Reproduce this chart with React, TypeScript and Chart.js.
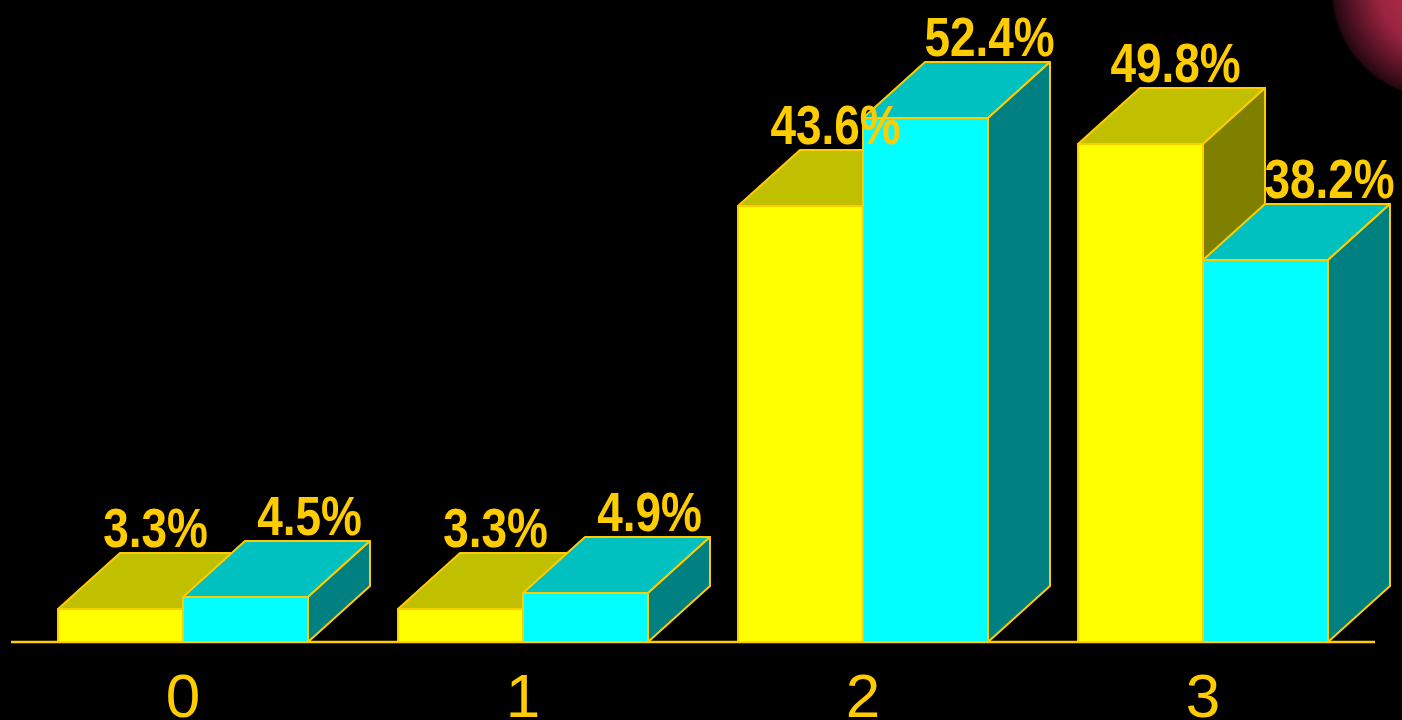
import { useEffect, useRef } from 'react';
import { Chart, registerables } from 'chart.js';

Chart.register(...registerables);

const categories = ['0', '1', '2', '3'];
const seriesA = [3.3, 3.3, 43.6, 49.8];
const seriesB = [4.5, 4.9, 52.4, 38.2];
const valueLabelsA = ['3.3%', '3.3%', '43.6%', '49.8%'];
const valueLabelsB = ['4.5%', '4.9%', '52.4%', '38.2%'];

const FONT = '"Liberation Sans", Arial, sans-serif';
const GOLD = '#FFCC00';
const DX = 62;
const DY = 56;
const NARROW = 0.82;

const faceColors = [
  { front: '#FFFF00', top: '#C0C000', side: '#808000', labelOffset: 35 },
  { front: '#00FFFF', top: '#00C0C0', side: '#008080', labelOffset: 64 },
];
const valueLabelSets = [valueLabelsA, valueLabelsB];

function poly(ctx: CanvasRenderingContext2D, pts: number[][], fill: string) {
  ctx.beginPath();
  ctx.moveTo(pts[0][0], pts[0][1]);
  for (let i = 1; i < pts.length; i++) ctx.lineTo(pts[i][0], pts[i][1]);
  ctx.closePath();
  ctx.fillStyle = fill;
  ctx.fill();
  ctx.stroke();
}

const bars3d = {
  id: 'bars3d',
  beforeDraw(chart: any) {
    const ctx = chart.ctx as CanvasRenderingContext2D;
    ctx.save();
    ctx.fillStyle = '#000000';
    ctx.fillRect(0, 0, chart.width, chart.height);
    const g = ctx.createRadialGradient(1440, -10, 0, 1440, -10, 110);
    g.addColorStop(0, '#C8304E');
    g.addColorStop(0.55, '#9A2440');
    g.addColorStop(0.85, '#4A1020');
    g.addColorStop(0.97, '#240810');
    g.addColorStop(1, 'rgba(0,0,0,0)');
    ctx.fillStyle = g;
    ctx.beginPath();
    ctx.arc(1440, -10, 110, 0, Math.PI * 2);
    ctx.fill();
    ctx.restore();
  },
  beforeDatasetsDraw(chart: any) {
    const ctx = chart.ctx as CanvasRenderingContext2D;
    const area = chart.chartArea;
    const yb = chart.scales.y.getPixelForValue(0);
    ctx.save();
    ctx.strokeStyle = GOLD;
    ctx.lineWidth = 2.5;
    ctx.beginPath();
    ctx.moveTo(area.left - 2, yb);
    ctx.lineTo(area.right + 2, yb);
    ctx.stroke();
    ctx.restore();
  },
  afterDatasetsDraw(chart: any) {
    const ctx = chart.ctx as CanvasRenderingContext2D;
    ctx.save();
    ctx.strokeStyle = GOLD;
    ctx.lineWidth = 2;
    ctx.lineJoin = 'round';
    const n = chart.data.datasets.length;
    for (let d = 0; d < n; d++) {
      const meta = chart.getDatasetMeta(d);
      const c = faceColors[d];
      meta.data.forEach((el: any) => {
        const { x, y, base, width } = el.getProps(['x', 'y', 'base', 'width'], true);
        const x0 = x - width / 2;
        const x1 = x + width / 2;
        poly(ctx, [[x0, y], [x0 + DX, y - DY], [x1 + DX, y - DY], [x1, y]], c.top);
        poly(ctx, [[x1, y], [x1 + DX, y - DY], [x1 + DX, base - DY], [x1, base]], c.side);
        poly(ctx, [[x0, y], [x1, y], [x1, base], [x0, base]], c.front);
      });
    }
    ctx.fillStyle = GOLD;
    ctx.font = `bold 56px ${FONT}`;
    ctx.textAlign = 'center';
    ctx.textBaseline = 'alphabetic';
    for (let d = 0; d < n; d++) {
      const meta = chart.getDatasetMeta(d);
      const c = faceColors[d];
      meta.data.forEach((el: any, i: number) => {
        const { x, y } = el.getProps(['x', 'y'], true);
        ctx.save();
        ctx.translate(x + c.labelOffset, y - DY - 6);
        ctx.scale(NARROW, 1);
        ctx.fillText(valueLabelSets[d][i], 0, 0);
        ctx.restore();
      });
    }
    ctx.restore();
  },
};

export default function App() {
  const ref = useRef<HTMLCanvasElement>(null);
  useEffect(() => {
    if (!ref.current) return;
    const chart = new Chart(ref.current, {
      type: 'bar',
      data: {
        labels: categories,
        datasets: [
          { data: seriesA, backgroundColor: 'rgba(0,0,0,0)', borderWidth: 0, barThickness: 125 },
          { data: seriesB, backgroundColor: 'rgba(0,0,0,0)', borderWidth: 0, barThickness: 125 },
        ],
      },
      options: {
        responsive: false,
        animation: false,
        devicePixelRatio: 1,
        layout: { padding: { left: 13, right: 29, top: 42, bottom: 0 } },
        plugins: { legend: { display: false }, tooltip: { enabled: false } },
        scales: {
          x: {
            grid: { display: false, drawTicks: false },
            border: { display: false },
            ticks: { color: GOLD, font: { family: FONT, size: 62, lineHeight: 0.8 }, padding: 33 },
            afterFit: (scale: any) => { scale.height = 78; },
          },
          y: { display: false, min: 0, max: 60 },
        },
      },
      plugins: [bars3d],
    } as any);
    return () => chart.destroy();
  }, []);
  return (
    <div style={{ position: 'fixed', left: 0, top: 0, width: 1402, height: 720, background: '#000' }}>
      <canvas ref={ref} width={1402} height={720} style={{ width: 1402, height: 720, display: 'block' }} />
    </div>
  );
}
